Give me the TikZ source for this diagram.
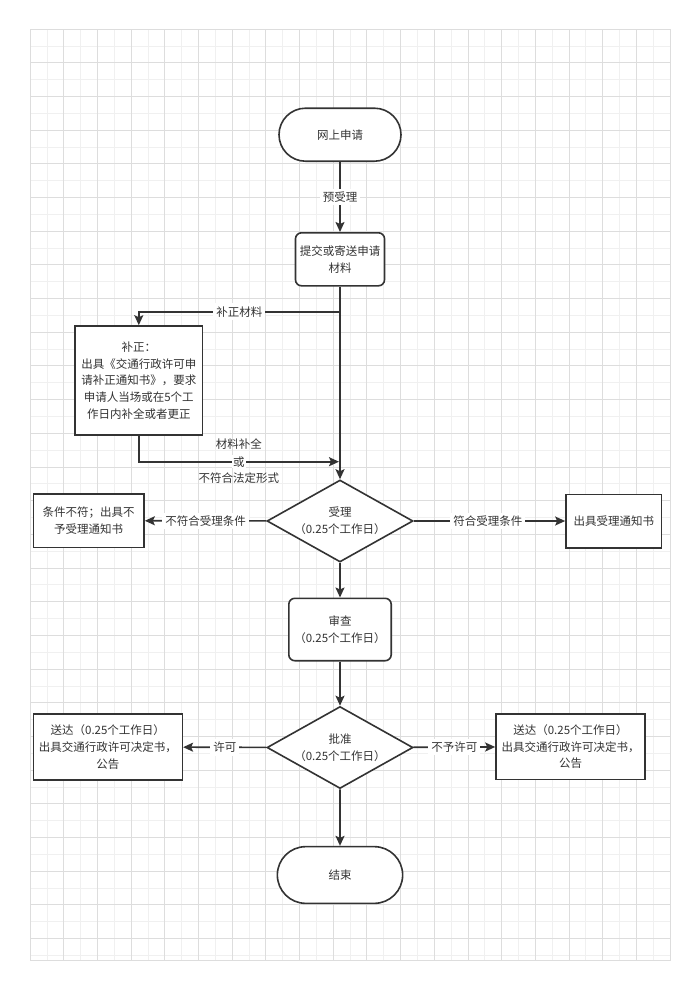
\documentclass[tikz,border=0pt]{standalone}
\usepackage{fontspec}
\setmainfont{Noto Sans CJK SC}
\usetikzlibrary{arrows.meta,shapes.geometric,shapes.misc,positioning}
\definecolor{ln}{HTML}{333333}
\definecolor{gmin}{HTML}{F0F0F0}
\definecolor{gmaj}{HTML}{DDDDDD}
\tikzset{
  txt/.style={font=\fontsize{11.5}{16.7}\selectfont, text=ln, align=center},
  term/.style={txt, draw=ln, fill=white, line width=1.6pt, rounded rectangle, minimum width=#1, minimum height=54pt, inner sep=0pt},
  rbox/.style={txt, draw=ln, line width=1.6pt, fill=white, rounded corners=6pt, inner sep=0pt},
  sbox/.style={txt, draw=ln, line width=1.6pt, fill=white, inner sep=0pt},
  dia/.style={txt, draw=ln, line width=1.6pt, fill=white, diamond, aspect=1.78, minimum width=146pt, minimum height=82pt, inner sep=0pt},
  arr/.style={draw=ln, line width=1.6pt, -{Stealth[length=10pt,width=9pt,inset=2pt]}},
  lbl/.style={txt, fill=white, inner sep=3pt},
  plain/.style={txt, inner sep=0pt}
}
\begin{document}
\begin{tikzpicture}[x=1pt,y=-1pt]
\useasboundingbox[fill=white] (0,0) rectangle (697,989);
% grid
\foreach \i in {0,...,38}{
  \pgfmathsetmacro{\xx}{30+\i*16.842}
  \pgfmathtruncatemacro{\odd}{mod(\i,2)}
  \ifnum\odd=1 \draw[gmin,line width=0.6pt] (\xx,29) -- (\xx,960.7); \fi
}
\foreach \j in {0,...,55}{
  \pgfmathsetmacro{\yy}{29+\j*16.842}
  \pgfmathtruncatemacro{\odd}{mod(\j,2)}
  \ifnum\odd=1 \draw[gmin,line width=0.6pt] (30,\yy) -- (670,\yy); \fi
}
\foreach \i in {0,...,38}{
  \pgfmathsetmacro{\xx}{30+\i*16.842}
  \pgfmathtruncatemacro{\odd}{mod(\i,2)}
  \ifnum\odd=0 \draw[gmaj,line width=0.7pt] (\xx,29) -- (\xx,960.7); \fi
}
\foreach \j in {0,...,55}{
  \pgfmathsetmacro{\yy}{29+\j*16.842}
  \pgfmathtruncatemacro{\odd}{mod(\j,2)}
  \ifnum\odd=0 \draw[gmaj,line width=0.7pt] (30,\yy) -- (670,\yy); \fi
}
\draw[gmaj,line width=0.7pt] (30,960.7) -- (670,960.7);

% nodes
\node[term=122pt, minimum height=53pt] (start) at (340,134.7) {网上申请};
\node[rbox, minimum width=89pt, minimum height=53pt] (submit) at (340,259.3) {提交或寄送申请\\材料};
\node[sbox, minimum width=127.7pt, minimum height=109pt] (fix) at (138.8,380.5) {补正：\\出具《交通行政许可申\\请补正通知书》，要求\\申请人当场或在5个工\\作日内补全或者更正};
\node[dia] (accept) at (340,521) {受理\\（0.25个工作日）};
\node[sbox, minimum width=110.7pt, minimum height=53.3pt] (reject) at (88.7,520.7) {条件不符；出具不\\予受理通知书};
\node[sbox, minimum width=95.7pt, minimum height=53.4pt] (notice) at (613.8,521) {出具受理通知书};
\node[rbox, minimum width=102.4pt, minimum height=62.4pt] (review) at (340,629.5) {审查\\（0.25个工作日）};
\node[dia] (approve) at (340,747.5) {批准\\（0.25个工作日）};
\node[sbox, minimum width=149pt, minimum height=66pt] (permit) at (107.8,747) {送达（0.25个工作日）\\出具交通行政许可决定书，\\公告};
\node[sbox, minimum width=149pt, minimum height=65.3pt] (deny) at (570.5,746.7) {送达（0.25个工作日）\\出具交通行政许可决定书，\\公告};
\node[term=125.3pt, minimum height=56.7pt] (end) at (340,875) {结束};

\coordinate (b1) at (340,311.7);
\coordinate (b2) at (340,461.7);

% connectors
\draw[arr] (start) -- node[lbl]{预受理} (submit);
\draw[arr] (submit) -- (accept);
\draw[arr] (b1) -| node[lbl,pos=0.25]{补正材料} (fix.north);
\draw[arr] (fix.south) |- node[lbl,pos=0.75,inner sep=1pt]{或}
  node[plain,pos=0.75,yshift=17.7pt]{材料补全}
  node[plain,pos=0.75,yshift=-16.6pt]{不符合法定形式} ([xshift=-1pt]b2);
\draw[arr] (accept) -- node[lbl]{不符合受理条件} (reject);
\draw[arr] (accept) -- node[lbl,pos=0.49]{符合受理条件} (notice);
\draw[arr] (accept) -- (review);
\draw[arr] (review) -- (approve);
\draw[arr] (approve) -- node[lbl]{许可} (permit);
\draw[arr] (approve) -- node[lbl]{不予许可} (deny);
\draw[arr] (approve) -- (end);
\end{tikzpicture}
\end{document}
